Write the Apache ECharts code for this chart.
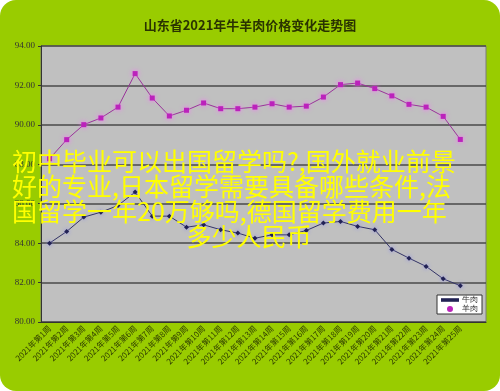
<!DOCTYPE html>
<html>
<head>
<meta charset="utf-8">
<script src="https://cdn.jsdelivr.net/npm/echarts@6/dist/echarts.min.js"></script>
<style>
html,body{margin:0;padding:0;background:#fff;}
#c{width:500px;height:391px;}
</style>
</head>
<body>
<div id="c"></div>
<script>
const titleText = '山东省2021年牛羊肉价格变化走势图';
const categories = ['2021年第1周','2021年第2周','2021年第3周','2021年第4周','2021年第5周','2021年第6周','2021年第7周','2021年第8周','2021年第9周','2021年第10周','2021年第11周','2021年第12周','2021年第13周','2021年第14周','2021年第15周','2021年第16周','2021年第17周','2021年第18周','2021年第19周','2021年第20周','2021年第21周','2021年第22周','2021年第23周','2021年第24周','2021年第25周',''];
const beef = [84.00, 84.59, 85.32, 85.57, 85.91, 86.59, 85.37, 85.37, 84.81, 84.93, 84.68, 84.51, 84.25, 84.42, 84.42, 84.64, 85.02, 85.10, 84.85, 84.68, 83.68, 83.24, 82.82, 82.19, 81.84, null];
const lamb = [88.28, 89.25, 90.01, 90.35, 90.90, 92.60, 91.36, 90.45, 90.74, 91.11, 90.82, 90.82, 90.90, 91.07, 90.90, 90.95, 91.41, 92.04, 92.12, 91.84, 91.47, 91.04, 90.90, 90.43, 89.26, null];
const seriesNames = ['牛肉', '羊肉'];
const overlayLines = ['初中毕业可以出国留学吗?,国外就业前景', '好的专业,日本留学需要具备哪些条件,法', '国留学一年20万够吗,德国留学费用一年', '多少人民币'];

const chart = echarts.init(document.getElementById('c'), null, {renderer:'canvas'});
const overlayFont = '"Noto Sans CJK SC", "Noto Sans", sans-serif';
const overlayStyle = (txt, x, y, align) => ({
  type:'text', z:100, left:null,
  x:x, y:y,
  style:{text:txt, fill:'#ffff00', font:'25px ' + overlayFont, textAlign:align, textVerticalAlign:'middle'}
});
chart.setOption({
  backgroundColor:'#ffffff',
  animation:false,
  title:{
    text:titleText, left:'center', top:14,
    textStyle:{fontSize:13, fontWeight:'bold', color:'#2a3300', fontFamily:'"Noto Sans CJK SC", sans-serif'}
  },
  legend:{
    data:[
      {name:seriesNames[0], icon:'path://M0,4L10,4L10,6L0,6Z'},
      {name:seriesNames[1], icon:'circle'}
    ],
    orient:'vertical', left:437, top:295,
    backgroundColor:'#ffffff', borderColor:'#333333', borderWidth:1,
    padding:[1,4,1,4], itemGap:1, itemWidth:18, itemHeight:6,
    textStyle:{fontSize:8, color:'#333333', padding:[0,0,0,-2]}
  },
  grid:{left:41, right:14, top:46, bottom:69, show:true, backgroundColor:'#c0c0c0', borderColor:'#7a7a7a', borderWidth:1},
  xAxis:{
    type:'category', data:categories, boundaryGap:true,
    axisLine:{lineStyle:{color:'#333333', width:1}},
    axisTick:{inside:true, length:4, lineStyle:{color:'#333333'}},
    axisLabel:{interval:0, rotate:45, fontSize:8, color:'#2f3d00', margin:5, fontFamily:'"Noto Sans CJK SC", sans-serif'}
  },
  yAxis:{
    type:'value', min:80, max:94, interval:2,
    axisLine:{show:true, lineStyle:{color:'#333333', width:1}},
    axisTick:{show:true, length:3, lineStyle:{color:'#333333'}},
    axisLabel:{fontSize:9, color:'#333333', margin:6, fontFamily:'"Liberation Serif", serif', formatter:v=>v.toFixed(2)},
    splitLine:{show:true, lineStyle:{color:'#4a4a4a', width:1.5}}
  },
  series:[
    {
      name:seriesNames[0], type:'line', data:beef,
      symbol:'diamond', symbolSize:5,
      lineStyle:{color:'#333366', width:1},
      itemStyle:{color:'#222255', shadowColor:'#8888ee', shadowBlur:4},
      z:3
    },
    {
      name:seriesNames[1], type:'line', data:lamb,
      symbol:'rect', symbolSize:5,
      lineStyle:{color:'#993399', width:1},
      itemStyle:{color:'#bb22bb', shadowColor:'#ff66ff', shadowBlur:5},
      z:3
    }
  ],
  graphic:[
    {type:'rect', z:-10, shape:{x:0, y:0, width:500, height:391, r:16}, style:{fill:'#99cc00'}},
    overlayStyle(overlayLines[0], 12, 161, 'left'),
    overlayStyle(overlayLines[1], 12, 186, 'left'),
    overlayStyle(overlayLines[2], 12, 211, 'left'),
    overlayStyle(overlayLines[3], 249, 236, 'center')
  ]
});
</script>
</body>
</html>
